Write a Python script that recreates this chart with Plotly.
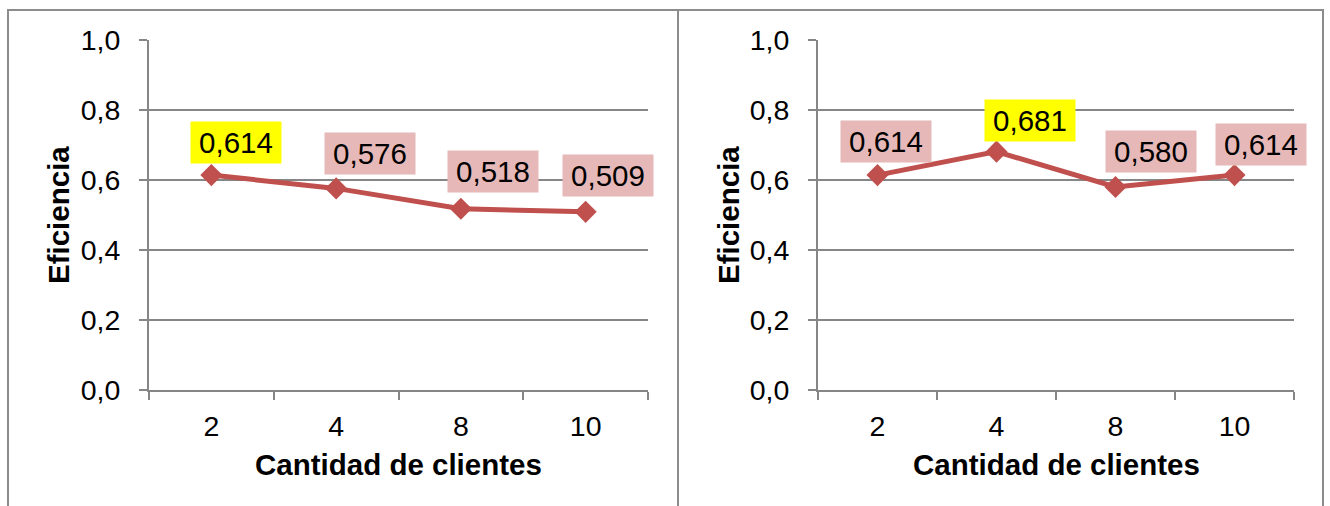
import plotly.graph_objects as go

categories = ["2", "4", "8", "10"]
left_values = [0.614, 0.576, 0.518, 0.509]
right_values = [0.614, 0.681, 0.580, 0.614]
left_labels = ["0,614", "0,576", "0,518", "0,509"]
right_labels = ["0,614", "0,681", "0,580", "0,614"]
y_tickvals = [0.0, 0.2, 0.4, 0.6, 0.8, 1.0]
y_ticktext = ["0,0", "0,2", "0,4", "0,6", "0,8", "1,0"]
x_title = "Cantidad de clientes"
y_title = "Eficiencia"

# styling (not data)
left_highlight = [True, False, False, False]
right_highlight = [False, True, False, False]
left_shifts = [(25, -33), (34, -35), (32, -37), (22, -36)]
right_shifts = [(8, -34), (33, -31), (35, -36), (26, -31)]

W, H = 1330, 506
FONT = "Liberation Sans, Arial, sans-serif"
LINE = "#C0504D"
GRID = "#868686"
PINK = "#E6B9B8"
YELLOW = "#FFFF00"

def px(x):
    return x / W

def py(y):
    return 1 - y / H

fig = go.Figure()
fig.add_trace(go.Scatter(x=categories, y=left_values, mode="lines+markers",
                         line=dict(color=LINE, width=5),
                         marker=dict(symbol="diamond", size=17, color=LINE),
                         xaxis="x", yaxis="y", showlegend=False, cliponaxis=False))
fig.add_trace(go.Scatter(x=categories, y=right_values, mode="lines+markers",
                         line=dict(color=LINE, width=5),
                         marker=dict(symbol="diamond", size=17, color=LINE),
                         xaxis="x2", yaxis="y2", showlegend=False, cliponaxis=False))

ydom = [py(390), py(40)]
xax = dict(type="category", range=[-0.5, 3.5], tickson="boundaries", ticks="outside",
           ticklen=8, tickcolor=GRID, tickwidth=2, showline=True, linecolor=GRID,
           linewidth=2, showgrid=False, zeroline=False, automargin=False,
           tickfont=dict(family=FONT, size=28.5, color="black"), ticklabelstandoff=10,
           fixedrange=True)
yax = dict(range=[0, 1], tickvals=y_tickvals, ticktext=y_ticktext, ticks="outside",
           ticklen=8, tickcolor=GRID, tickwidth=2, showline=True, linecolor=GRID,
           linewidth=2, showgrid=True, gridcolor=GRID, gridwidth=2, zeroline=False,
           automargin=False,
           tickfont=dict(family=FONT, size=28.5, color="black"), ticklabelstandoff=13,
           fixedrange=True)

fig.update_layout(
    width=W, height=H, margin=dict(l=0, r=0, t=0, b=0, pad=0, autoexpand=False),
    paper_bgcolor="white", plot_bgcolor="white",
    xaxis=dict(xax, domain=[px(149), px(648)], anchor="y"),
    yaxis=dict(yax, domain=ydom, anchor="x"),
    xaxis2=dict(xax, domain=[px(818), px(1294)], anchor="y2"),
    yaxis2=dict(yax, domain=ydom, anchor="x2"),
)

annotations = []
for xa, ya, vals, labs, hl, shifts in [("x", "y", left_values, left_labels, left_highlight, left_shifts),
                                        ("x2", "y2", right_values, right_labels, right_highlight, right_shifts)]:
    for i, (v, t, h, (sx, sy)) in enumerate(zip(vals, labs, hl, shifts)):
        annotations.append(dict(x=i, y=v, xref=xa, yref=ya, text=t, showarrow=False,
                                xshift=sx, yshift=-sy, bgcolor=YELLOW if h else PINK,
                                width=80, height=31, borderpad=5,
                                font=dict(family=FONT, size=29.5, color="black")))

for cx in [(149 + 648) / 2, (818 + 1294) / 2]:
    annotations.append(dict(x=px(cx), y=py(464), xref="paper", yref="paper", text=f"<b>{x_title}</b>",
                            showarrow=False, font=dict(family=FONT, size=29.5, color="black"),
                            xanchor="center", yanchor="middle"))
for cx in [58, 728]:
    annotations.append(dict(x=px(cx), y=py(215), xref="paper", yref="paper", text=f"<b>{y_title}</b>",
                            showarrow=False, textangle=-90, font=dict(family=FONT, size=29.5, color="black"),
                            xanchor="center", yanchor="middle"))
fig.update_layout(annotations=annotations)

fig.update_layout(shapes=[
    dict(type="rect", xref="paper", yref="paper", x0=px(8), x1=px(1323), y0=-0.2, y1=py(10),
         line=dict(color="#8C8C8C", width=2), fillcolor="rgba(0,0,0,0)"),
    dict(type="line", xref="paper", yref="paper", x0=px(678), x1=px(678), y0=-0.2, y1=py(10),
         line=dict(color="#8C8C8C", width=2)),
])

fig.write_html("out.html")
